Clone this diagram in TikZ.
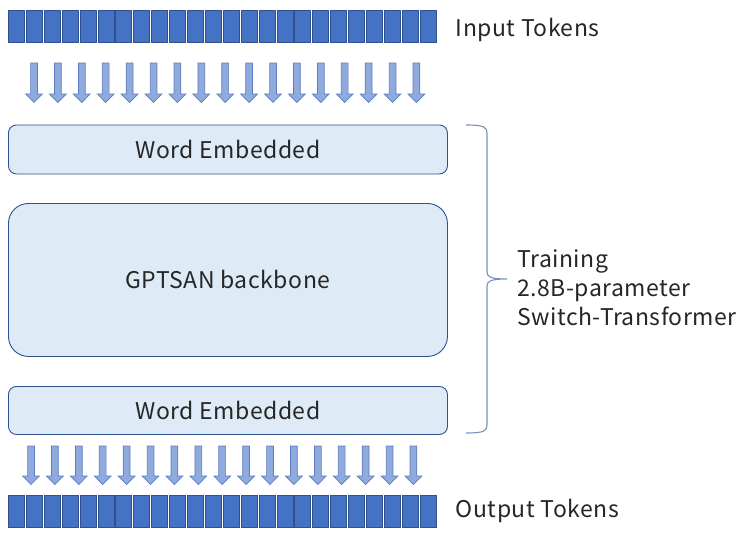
\documentclass[tikz,border=0pt]{standalone}
\usepackage{fontspec}
\setmainfont[LetterSpace=2.2]{Noto Sans CJK JP}
\usetikzlibrary{positioning}

\definecolor{tokfill}{HTML}{4472C4}
\definecolor{tokline}{HTML}{2F528F}
\definecolor{arrfill}{HTML}{8FAADC}
\definecolor{arrline}{HTML}{5A7CBF}
\definecolor{boxfill}{HTML}{DEEBF7}
\definecolor{txtgray}{HTML}{262626}

\begin{document}
\begin{tikzpicture}[x=1pt, y=-1pt,
	token/.style = {draw=tokline, fill=tokfill, line width=0.9pt, minimum width=16pt, minimum height=32pt, inner sep=0pt, anchor=north west},
	layer/.style = {draw=tokline, fill=boxfill, line width=0.9pt, minimum width=439pt, inner sep=0pt, anchor=north west, text=txtgray, font=\fontsize{23}{27}\selectfont},
	blockarrow/.style = {draw=arrline, fill=arrfill, line width=0.7pt, line join=miter},
	bracket/.style = {draw=arrfill!85!black, line width=1.1pt},
	caption/.style = {text=txtgray, inner sep=0pt, font=\fontsize{23}{29}\selectfont}]
	%%% Frame
	\useasboundingbox (0,0) rectangle (746,535);
	%%% Tokens
	\foreach \i in {1,...,24} {
		\node[token] (in\i) at ({8+17.9*(\i-1)},10.5) {};
		\node[token] (out\i) at ({8+17.9*(\i-1)},495) {};
	}
	\node[caption, right=19pt of in24, yshift=-3pt] (inlabel) {Input Tokens};
	\node[caption, right=19pt of out24] (outlabel) {Output Tokens};
	%%% Arrows
	\foreach \i in {0,...,16} {
		\pgfmathsetmacro\ax{34+23.9*\i}
		\draw[blockarrow] (\ax-3.4,63) -- (\ax+3.4,63) -- (\ax+3.4,94) -- (\ax+8.4,94) -- (\ax,102.5) -- (\ax-8.4,94) -- (\ax-3.4,94) -- cycle;
		\pgfmathsetmacro\bx{31+23.9*\i}
		\draw[blockarrow] (\bx-3.4,446) -- (\bx+3.4,446) -- (\bx+3.4,476) -- (\bx+8.4,476) -- (\bx,484.5) -- (\bx-8.4,476) -- (\bx-3.4,476) -- cycle;
	}
	%%% Layers
	\node[layer, rounded corners=8pt, minimum height=49pt] (embtop) at (8,124.5) {Word Embedded};
	\node[layer, rounded corners=20pt, minimum height=153pt] (backbone) at (8,203) {GPTSAN backbone};
	\node[layer, rounded corners=8pt, minimum height=48pt] (embbot) at (8,386) {Word Embedded};
	%%% Brace
	\draw[bracket] (466,125) .. controls (484,125) and (487,127) .. (487,133) -- (487,272)
		.. controls (487,277) and (491,279) .. (507,279)
		.. controls (491,279) and (487,281) .. (487,286) -- (487,425)
		.. controls (487,431) and (484,433) .. (466,433);
	\node[caption, align=left, anchor=west] (training) at (517,288) {Training\\2.8B-parameter\\Switch-Transformer};
\end{tikzpicture}
\end{document}
